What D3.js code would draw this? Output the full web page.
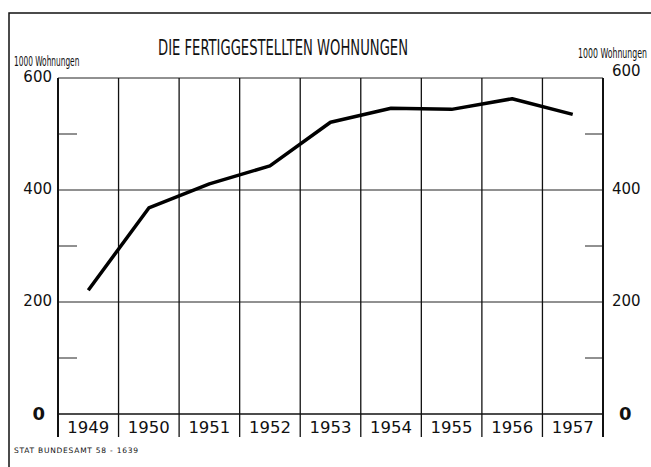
<!DOCTYPE html>
<html>
<head>
<meta charset="utf-8">
<script src="https://cdn.jsdelivr.net/npm/d3@7"></script>
<style>
  body { margin: 0; background: #fff; }
  text { font-family: "DejaVu Sans", sans-serif; fill: #111; }
</style>
</head>
<body>
<div class="canva"></div>
<script>
// data (1000 Wohnungen)
const years = ["1949", "1950", "1951", "1952", "1953", "1954", "1955", "1956", "1957"];
const dwellings = [221, 368, 411, 443, 521, 546, 544, 563, 535];
const gridValues = [200, 400, 600];
const minorTicks = [100, 300, 500];
const tickLabels = [0, 200, 400, 600];

const width = 651, height = 467;
const margin = {top: 78, right: 48, bottom: 53, left: 58};
const graphWidth = width - margin.left - margin.right;
const graphHeight = height - margin.top - margin.bottom;

const svg = d3.select(".canva").append("svg")
    .attr("width", width)
    .attr("height", height);

// outer frame (only top and left edges are in the picture)
svg.append("path")
    .attr("d", "M9,467 V13 H651")
    .attr("fill", "none")
    .attr("stroke", "#111")
    .attr("stroke-width", 1.5);

const g = svg.append("g")
    .attr("transform", `translate(${margin.left}, ${margin.top})`);

const x = d3.scaleBand()
    .domain(years)
    .range([0, graphWidth])
    .padding(0);

const y = d3.scaleLinear()
    .domain([0, 600])
    .range([graphHeight, 0]);

// horizontal grid lines
g.selectAll(".hgrid")
    .data(gridValues)
    .enter()
    .append("line")
    .attr("x1", 0)
    .attr("x2", graphWidth)
    .attr("y1", d => y(d))
    .attr("y2", d => y(d))
    .attr("stroke", "#222")
    .attr("stroke-width", 1);

// short ticks on both sides
g.selectAll(".ltick")
    .data(minorTicks)
    .enter()
    .append("line")
    .attr("x1", 0)
    .attr("x2", 19)
    .attr("y1", d => y(d))
    .attr("y2", d => y(d))
    .attr("stroke", "#222")
    .attr("stroke-width", 1);

g.selectAll(".rtick")
    .data(minorTicks)
    .enter()
    .append("line")
    .attr("x1", graphWidth - 18)
    .attr("x2", graphWidth)
    .attr("y1", d => y(d))
    .attr("y2", d => y(d))
    .attr("stroke", "#222")
    .attr("stroke-width", 1);

// vertical year separators, running down through the label row
const bounds = years.map(d => x(d)).concat([graphWidth]);
g.selectAll(".vgrid")
    .data(bounds)
    .enter()
    .append("line")
    .attr("x1", d => d)
    .attr("x2", d => d)
    .attr("y1", 0)
    .attr("y2", graphHeight + 23)
    .attr("stroke", "#111")
    .attr("stroke-width", (d, i) => (i === 0 || i === bounds.length - 1) ? 2 : 1.3);

// baseline
g.append("line")
    .attr("x1", 0)
    .attr("x2", graphWidth)
    .attr("y1", y(0))
    .attr("y2", y(0))
    .attr("stroke", "#111")
    .attr("stroke-width", 1.5);

// data line
const valueLine = d3.line()
    .x((d, i) => x(years[i]) + x.bandwidth() / 2)
    .y(d => y(d));

g.append("path")
    .datum(dwellings)
    .attr("d", valueLine)
    .attr("fill", "none")
    .attr("stroke", "#000")
    .attr("stroke-width", 3.5)
    .attr("stroke-linejoin", "round");

// year labels
g.selectAll(".year")
    .data(years)
    .enter()
    .append("text")
    .attr("x", d => x(d) + x.bandwidth() / 2)
    .attr("y", graphHeight + 19)
    .attr("text-anchor", "middle")
    .attr("font-size", "16.5px")
    .text(d => d);

// y tick labels left and right
g.selectAll(".lval")
    .data(tickLabels)
    .enter()
    .append("text")
    .attr("x", d => d === 0 ? -13 : -6)
    .attr("y", d => d === 0 ? y(d) + 6 : y(d) + 4)
    .attr("text-anchor", "end")
    .attr("font-size", d => d === 0 ? "18px" : "15px")
    .attr("font-weight", d => d === 0 ? "bold" : "normal")
    .text(d => d);

g.selectAll(".rval")
    .data(tickLabels)
    .enter()
    .append("text")
    .attr("x", d => d === 0 ? graphWidth + 16 : graphWidth + 9)
    .attr("y", d => d === 0 ? y(d) + 6 : (d === 600 ? y(d) - 2 : y(d) + 4))
    .attr("text-anchor", "start")
    .attr("font-size", d => d === 0 ? "18px" : "15px")
    .attr("font-weight", d => d === 0 ? "bold" : "normal")
    .text(d => d);

// unit labels (squeezed horizontally like the condensed original)
svg.append("text")
    .attr("transform", "translate(14, 66) scale(0.53, 1)")
    .attr("font-size", "14px")
    .text("1000 Wohnungen");

svg.append("text")
    .attr("transform", "translate(647, 58) scale(0.58, 1)")
    .attr("text-anchor", "end")
    .attr("font-size", "13.5px")
    .text("1000 Wohnungen");

// title
svg.append("text")
    .attr("x", 158)
    .attr("y", 55)
    .attr("font-family", "DejaVu Sans Condensed")
    .attr("font-size", "21.5px")
    .attr("textLength", 250)
    .attr("lengthAdjust", "spacingAndGlyphs")
    .text("DIE FERTIGGESTELLTEN WOHNUNGEN");

// source note
svg.append("text")
    .attr("x", 14)
    .attr("y", 453)
    .attr("font-size", "7.5px")
    .attr("textLength", 124)
    .attr("lengthAdjust", "spacing")
    .text("STAT BUNDESAMT 58 - 1639");
</script>
</body>
</html>
